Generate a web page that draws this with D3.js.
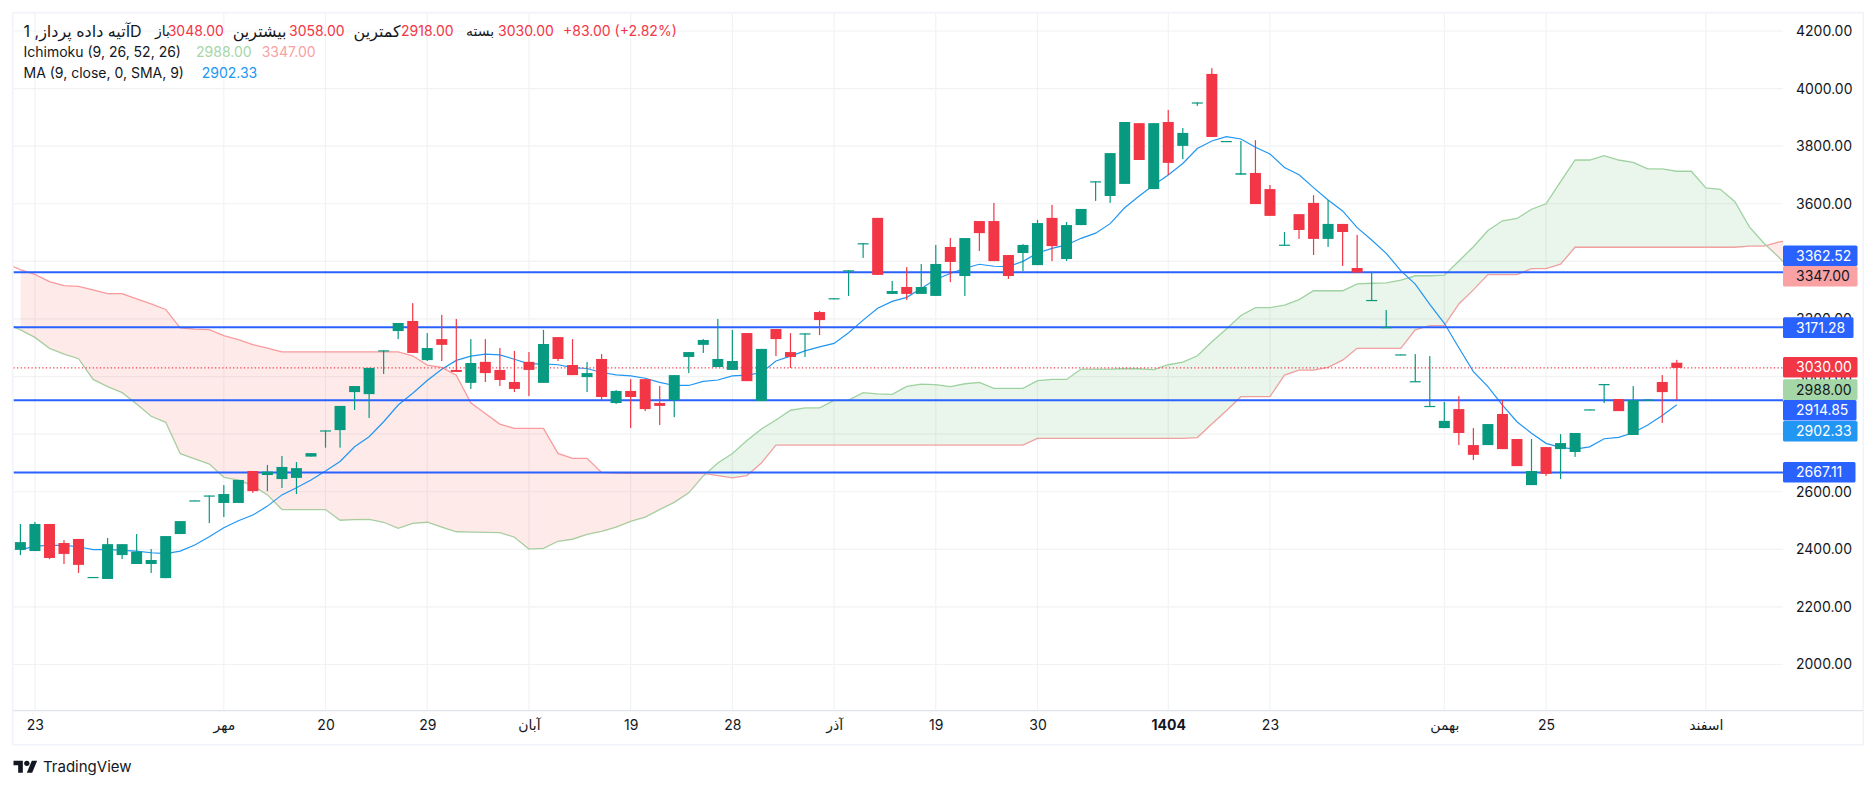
<!DOCTYPE html>
<html>
<head>
<meta charset="utf-8">
<script src="https://cdn.jsdelivr.net/npm/d3@7"></script>
<style>
  html, body { margin: 0; padding: 0; background: #fff; }
  text { font-family: Inter, "DejaVu Sans", sans-serif; }
</style>
</head>
<body>
<div id="chart"></div>
<script>
// candles, one value per trading day
var openVals = [2398,2394,2488,2422,2436,2302,2297,2380,2349,2349,2300,2453,2568,2585,2561,2561,2672,2658,2644,2648,
  2722,2811,2814,2946,2939,3089,3158,3193,3057,3130,3023,2978,3051,3023,2981,3051,2978,3137,3040,2998,
  3061,2908,2950,2991,2908,2918,3068,3110,3033,3023,3151,2915,3165,3085,3148,3224,3269,3365,3460,3551,
  3287,3311,3287,3280,3450,3349,3540,3540,3422,3429,3387,3551,3408,3526,3676,3627,3669,3880,3651,3884,
  3801,3950,4051,3816,3701,3707,3651,3455,3564,3603,3478,3530,3377,3264,3170,3075,2982,2895,2821,2887,
  2762,2762,2870,2783,2623,2755,2748,2738,2884,2972,2922,2797,2917,2981,3048];
var highVals = [2488,2495,2488,2432,2436,2304,2439,2418,2453,2401,2446,2498,2570,2587,2623,2641,2672,2693,2724,2703,
  2734,2813,2898,2967,3030,3091,3186,3255,3151,3214,3200,3130,3130,3099,3089,3085,3162,3137,3130,3051,
  3078,2953,2991,2991,2967,3005,3085,3130,3200,3162,3151,3096,3165,3151,3150,3228,3272,3369,3463,3551,
  3332,3380,3391,3457,3481,3481,3540,3603,3422,3460,3544,3596,3537,3582,3678,3776,3884,3880,3880,3926,
  3863,3952,4071,3818,3818,3821,3665,3502,3564,3630,3613,3530,3492,3363,3231,3077,3078,3071,2912,2932,
  2821,2835,2918,2783,2783,2755,2800,2804,2886,2974,2922,2967,2920,3005,3058];
var lowVals = [2380,2394,2366,2349,2318,2302,2297,2366,2349,2318,2300,2453,2568,2491,2512,2561,2596,2602,2613,2592,
  2722,2753,2753,2884,2856,3009,3130,3082,3054,3054,3016,2957,2981,2967,2946,2932,2978,3054,3005,2946,
  2915,2905,2821,2880,2832,2859,3012,3082,3033,3023,2984,2915,3071,3030,3068,3144,3269,3280,3412,3353,
  3287,3266,3287,3280,3328,3280,3436,3401,3339,3366,3387,3401,3401,3526,3610,3603,3669,3752,3651,3700,
  3755,3940,3832,3816,3701,3599,3558,3455,3478,3422,3450,3384,3361,3264,3170,3075,2982,2895,2821,2762,
  2710,2762,2748,2689,2623,2655,2644,2721,2884,2908,2880,2797,2917,2839,2918];
var closeVals = [2425,2488,2370,2384,2346,2304,2418,2418,2392,2363,2446,2498,2570,2587,2592,2641,2602,2670,2686,2682,
  2734,2813,2898,2967,3030,3091,3186,3082,3099,3110,3016,3047,3012,2988,2957,3023,3113,3061,3005,3012,
  2929,2950,2929,2887,2898,3005,3085,3127,3061,3054,2984,3096,3130,3068,3150,3196,3272,3369,3463,3353,
  3297,3287,3311,3391,3398,3481,3498,3401,3349,3457,3533,3453,3526,3582,3678,3776,3884,3752,3880,3742,
  3846,3952,3832,3818,3706,3599,3558,3458,3509,3478,3530,3502,3361,3266,3172,3077,2984,2898,2846,2804,
  2728,2835,2748,2689,2672,2662,2769,2804,2886,2974,2880,2918,2920,2946,3030];

// moving average, read bar by bar
var maVals = [2398,2411,2414,2414,2409,2399,2400,2396,2394,2388,2385,2394,2415,2444,2475,2499,2519,2550,2589,2614,
  2641,2672,2705,2756,2791,2843,2901,2942,2986,3025,3056,3071,3078,3075,3060,3044,3044,3041,3031,3028,
  3014,3006,3002,2994,2980,2969,2969,2983,2988,3002,3005,3013,3054,3071,3089,3103,3115,3152,3196,3237,
  3261,3275,3306,3338,3358,3376,3390,3383,3382,3400,3429,3445,3457,3480,3498,3531,3586,3627,3665,3700,
  3740,3792,3818,3833,3825,3796,3773,3726,3701,3656,3613,3575,3517,3474,3428,3368,3321,3251,3185,3100,
  3017,2965,2901,2843,2803,2768,2754,2748,2756,2784,2789,2805,2832,2865,2902.33];

// ichimoku cloud edges, these start one bar before the first candle and run past the last one
var cloudStart = -1;
var leadA = [3187,3162,3136,3098,3078,3062,2990,2965,2944,2905,2862,2841,2732,2714,2696,2650,2640,2621,2589,2538,
  2538,2538,2538,2501,2503,2504,2494,2473,2490,2494,2477,2461,2460,2459,2458,2442,2401,2403,2428,2435,
  2452,2462,2477,2497,2512,2538,2563,2596,2655,2700,2733,2778,2818,2849,2883,2891,2891,2917,2918,2944,
  2940,2938,2966,2974,2972,2965,2975,2980,2959,2959,2959,2986,2990,2990,3026,3026,3026,3028,3027,3024,
  3041,3050,3072,3121,3165,3212,3239,3239,3248,3267,3298,3298,3298,3322,3324,3325,3335,3350,3350,3352,
  3401,3451,3507,3541,3549,3581,3600,3677,3752,3752,3767,3752,3744,3721,3721,3713,3713,3655,3650,3607,
  3520,3463,3415,3364];
var leadB = [3393,3371,3355,3330,3316,3313,3301,3288,3288,3270,3252,3233,3169,3165,3163,3142,3128,3111,3099,3086,
  3086,3086,3086,3086,3086,3086,3086,3086,3072,3040,3032,3005,2909,2872,2835,2820,2820,2820,2733,2716,
  2716,2667,2665,2664,2664,2664,2664,2664,2664,2656,2648,2656,2700,2762,2762,2762,2762,2762,2762,2762,
  2762,2762,2762,2762,2762,2762,2762,2762,2762,2762,2762,2785,2785,2785,2785,2785,2785,2785,2785,2785,
  2785,2785,2788,2835,2881,2930,2930,2930,3005,3022,3022,3032,3057,3098,3098,3098,3098,3162,3177,3177,
  3252,3301,3354,3354,3354,3375,3375,3390,3449,3449,3449,3449,3449,3449,3449,3449,3449,3449,3449,3449,
  3453,3453,3467,3476];

// drawn support and resistance lines
var levelVals = [3362.52, 3171.28, 2918, 2667.11];
var lastClose = 3030;

var priceTicks = [2000,2200,2400,2600,2800,3000,3200,3400,3600,3800,4000,4200];
var timeTicks = [1,14,21,28,35,42,49,56,63,70,79,86,98,105,116];
var timeLabels = ["23","مهر","20","29","آبان","19","28","آذر","19","30","1404","23","بهمن","25","اسفند"];

// boxes on the price axis
var axisBoxes = [
  {text:"3362.52", top:245.5, right:1857.5, fill:"#2962ff", color:"#fff"},
  {text:"3347.00", top:266, right:1857.5, fill:"#faa1a4", color:"#131722"},
  {text:"3171.28", top:317.3, right:1853.5, fill:"#2962ff", color:"#fff"},
  {text:"3030.00", top:357, right:1857.5, fill:"#f23645", color:"#fff"},
  {text:"2988.00", top:379.3, right:1857.5, fill:"#a5d6a7", color:"#131722"},
  {text:"2914.85", top:400, right:1856.5, fill:"#2962ff", color:"#fff"},
  {text:"2902.33", top:421, right:1857.5, fill:"#2196f3", color:"#fff"},
  {text:"2667.11", top:462, right:1855.5, fill:"#2962ff", color:"#fff"}
];

var width = 1876, height = 789;
var plot = {left: 13.5, right: 1783, top: 13.5, bottom: 710.7};
var dark = "#131722", upColor = "#089981", downColor = "#f23645", gridColor = "#f1f2f4";

var x = d3.scaleLinear().domain([0, 114]).range([20.4, 1676.8]);
var y = d3.scaleLinear().domain([2000, 4200]).range([664.5, 31]);

var svg = d3.select("#chart").append("svg")
  .attr("width", width).attr("height", height)
  .style("display", "block");

// outer frame
svg.append("rect")
  .attr("x", 12.7).attr("y", 12.7)
  .attr("width", 1850.6).attr("height", 732)
  .attr("fill", "none").attr("stroke", "#f0f3fa").attr("stroke-width", 1.6);

// grid
svg.append("g").selectAll("line").data(priceTicks).join("line")
  .attr("x1", plot.left).attr("x2", plot.right)
  .attr("y1", d => y(d)).attr("y2", d => y(d))
  .attr("stroke", gridColor).attr("stroke-width", 1.2);
svg.append("g").selectAll("line").data(timeTicks).join("line")
  .attr("x1", d => x(d)).attr("x2", d => x(d))
  .attr("y1", plot.top).attr("y2", plot.bottom)
  .attr("stroke", gridColor).attr("stroke-width", 1.2);

// plot clip
var defs = svg.append("defs");
defs.append("clipPath").attr("id", "plotClip").append("rect")
  .attr("x", plot.left).attr("y", plot.top)
  .attr("width", plot.right - plot.left).attr("height", plot.bottom - plot.top);

var layer = svg.append("g").attr("clip-path", "url(#plotClip)");

// cloud table
var cloud = leadA.map(function(a, k) {
  return {i: k + cloudStart, a: a, b: leadB[k]};
});
var cloudFill = cloud.filter(d => d.i >= 0);

// lines go under the fill, this is why the pink edge turns brown under the green part
var lineA = d3.line().x(d => x(d.i)).y(d => y(d.a));
var lineB = d3.line().x(d => x(d.i)).y(d => y(d.b));
layer.append("path").datum(cloud).attr("d", lineB)
  .attr("fill", "none").attr("stroke", "#faa1a4").attr("stroke-width", 1.3);
layer.append("path").datum(cloud).attr("d", lineA)
  .attr("fill", "none").attr("stroke", "#a5d6a7").attr("stroke-width", 1.3);

// difference chart for the two cloud colours
defs.append("clipPath").attr("id", "aboveB").append("path").datum(cloudFill)
  .attr("d", d3.area().x(d => x(d.i)).y0(0).y1(d => y(d.b)));
defs.append("clipPath").attr("id", "belowB").append("path").datum(cloudFill)
  .attr("d", d3.area().x(d => x(d.i)).y0(height).y1(d => y(d.b)));
layer.append("path").datum(cloudFill)
  .attr("clip-path", "url(#aboveB)")
  .attr("d", d3.area().x(d => x(d.i)).y0(height).y1(d => y(d.a)))
  .attr("fill", "rgba(67,160,71,0.11)");
layer.append("path").datum(cloudFill)
  .attr("clip-path", "url(#belowB)")
  .attr("d", d3.area().x(d => x(d.i)).y0(0).y1(d => y(d.a)))
  .attr("fill", "rgba(244,67,54,0.11)");

// moving average
layer.append("path").datum(maVals)
  .attr("d", d3.line().x((d, i) => x(i)).y(d => y(d)))
  .attr("fill", "none").attr("stroke", "#2196f3").attr("stroke-width", 1.2);

// last price line
layer.append("line")
  .attr("x1", plot.left).attr("x2", plot.right)
  .attr("y1", y(lastClose)).attr("y2", y(lastClose))
  .attr("stroke", downColor).attr("stroke-width", 1.2)
  .attr("stroke-dasharray", "1.2 2.4");

// blue levels
layer.append("g").selectAll("line").data(levelVals).join("line")
  .attr("x1", plot.left).attr("x2", plot.right)
  .attr("y1", d => y(d)).attr("y2", d => y(d))
  .attr("stroke", "#2962ff").attr("stroke-width", 2);

// candles
var bars = openVals.map(function(o, i) {
  return {i: i, o: o, h: highVals[i], l: lowVals[i], c: closeVals[i]};
});
var candle = layer.append("g").selectAll("g").data(bars).join("g")
  .attr("fill", d => d.c >= d.o ? upColor : downColor);
candle.append("rect")
  .attr("x", d => x(d.i) - 0.6).attr("width", 1.2)
  .attr("y", d => y(d.h)).attr("height", d => y(d.l) - y(d.h));
candle.append("rect")
  .attr("x", d => x(d.i) - 5.5).attr("width", 11)
  .attr("y", d => y(Math.max(d.o, d.c)))
  .attr("height", d => Math.max(1.2, Math.abs(y(d.o) - y(d.c))));

// time axis
var timeAxis = d3.axisBottom(x)
  .tickValues(timeTicks)
  .tickSize(0)
  .tickPadding(9)
  .tickFormat((d, k) => timeLabels[k]);
var timeG = svg.append("g").attr("transform", "translate(0," + plot.bottom + ")").call(timeAxis);
timeG.select(".domain").remove();
timeG.selectAll("text")
  .attr("fill", dark).attr("font-size", 14)
  .attr("font-weight", d => d == 79 ? "bold" : "normal");
svg.append("line")
  .attr("x1", plot.left).attr("x2", 1863)
  .attr("y1", plot.bottom).attr("y2", plot.bottom)
  .attr("stroke", "#e0e3eb").attr("stroke-width", 1.2);

// price axis
var priceAxis = d3.axisRight(y)
  .tickValues(priceTicks)
  .tickSize(0)
  .tickPadding(13)
  .tickFormat(d3.format(".2f"));
var priceG = svg.append("g").attr("transform", "translate(" + plot.right + ",0)").call(priceAxis);
priceG.select(".domain").remove();
priceG.selectAll("text").attr("fill", dark).attr("font-size", 14);

// axis boxes
var box = svg.append("g").selectAll("g").data(axisBoxes).join("g");
box.append("rect")
  .attr("x", plot.right).attr("y", d => d.top)
  .attr("width", d => d.right - plot.right).attr("height", 20.6)
  .attr("rx", 1.5)
  .attr("fill", d => d.fill);
box.append("text")
  .attr("x", 1796).attr("y", d => d.top + 10.3)
  .attr("dy", "0.35em")
  .attr("font-size", 14)
  .attr("fill", d => d.color)
  .text(d => d.text);

// legend, one text per piece so the persian words and the numbers stay where they are
var legendPieces = [
  {x: 23.5, y: 31, size: 16, text: "آتیه داده پرداز, 1D", fill: dark},
  {x: 155, y: 31, size: 14, text: "باز", fill: dark},
  {x: 167.7, y: 31, size: 14, text: "3048.00", fill: downColor},
  {x: 232.7, y: 31, size: 16, text: "بیشترین", fill: dark},
  {x: 289, y: 31, size: 14, text: "3058.00", fill: downColor},
  {x: 353.5, y: 31, size: 16, text: "کمترین", fill: dark},
  {x: 401, y: 31, size: 14, text: "2918.00", fill: downColor},
  {x: 466, y: 31, size: 14, text: "بسته", fill: dark},
  {x: 498, y: 31, size: 14, text: "3030.00", fill: downColor},
  {x: 563, y: 31, size: 14, text: "+83.00 (+2.82%)", fill: downColor},
  {x: 23.5, y: 52, size: 14, text: "Ichimoku (9, 26, 52, 26)", fill: dark},
  {x: 196, y: 52, size: 14, text: "2988.00", fill: "#a5d6a7"},
  {x: 261.7, y: 52, size: 14, text: "3347.00", fill: "#faa1a4"},
  {x: 23.5, y: 73, size: 14, text: "MA (9, close, 0, SMA, 9)", fill: dark},
  {x: 201.7, y: 73, size: 14, text: "2902.33", fill: "#2196f3"}
];
svg.append("g").selectAll("text").data(legendPieces).join("text")
  .attr("x", d => d.x).attr("y", d => d.y)
  .attr("dy", "0.35em")
  .attr("font-size", d => d.size)
  .attr("fill", d => d.fill)
  .text(d => d.text);

// tradingview mark
var logo = svg.append("g")
  .attr("transform", "translate(13.5,758) scale(0.667)")
  .attr("fill", dark);
logo.append("path").attr("d", "M14 22H7V11H0V4h14v18zM28 22h-8l7.5-18h8L28 22z");
logo.append("circle").attr("cx", 20).attr("cy", 8).attr("r", 4);
svg.append("text")
  .attr("x", 43).attr("y", 766.7).attr("dy", "0.35em")
  .attr("font-size", 15).attr("fill", dark)
  .text("TradingView");
</script>
</body>
</html>
